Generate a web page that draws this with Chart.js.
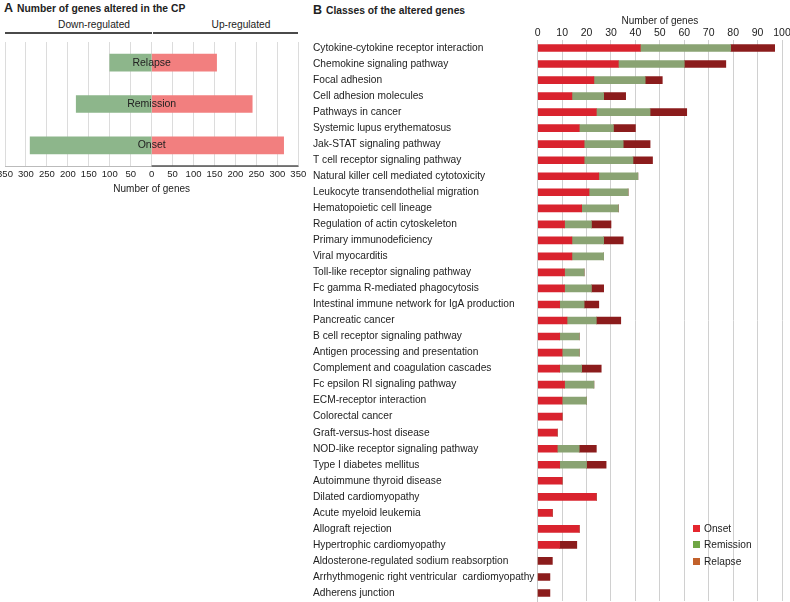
<!DOCTYPE html>
<html>
<head>
<meta charset="utf-8">
<script src="https://cdn.jsdelivr.net/npm/chart.js@4"></script>
<style>
  body { margin: 0; background: #fff; font-family: "Liberation Sans", Arial, sans-serif; color: #222; }
  #wrap { position: relative; width: 790px; height: 602px; overflow: hidden; }
  .abs { position: absolute; white-space: nowrap; }
  .ttl { font-weight: bold; font-size: 10.3px; }
  .ttl b { font-size: 12.5px; margin-right: 4px; }
  .hdr { font-size: 10.2px; transform: translateX(-50%); }
  .line { position: absolute; height: 2px; background: #4a4a4a; }
  .leg { font-size: 10.2px; }
  .leg span { display: inline-block; width: 7px; height: 7px; margin-right: 4px; vertical-align: 0px; }
</style>
</head>
<body>
<div id="wrap">
  <div class="abs ttl" style="left:4px;top:1px;"><b>A</b>Number of genes altered in the CP</div>
  <div class="abs ttl" style="left:313px;top:3px;"><b>B</b>Classes of the altered genes</div>
  <div class="abs hdr" style="left:94px;top:19px;">Down-regulated</div>
  <div class="abs hdr" style="left:241px;top:19px;">Up-regulated</div>
  <div class="line" style="left:5px;top:32px;width:147px;"></div>
  <div class="line" style="left:153px;top:32px;width:145px;"></div>

  <div class="abs" style="left:0px;top:40px;width:310px;height:160px;"><canvas id="chartA"></canvas></div>
  <div class="abs" style="left:313px;top:0px;width:477px;height:602px;"><canvas id="chartB"></canvas></div>

  <div class="abs leg" style="left:693px;top:523px;"><span style="background:#e5262e"></span>Onset</div>
  <div class="abs leg" style="left:693px;top:539px;"><span style="background:#6fa644"></span>Remission</div>
  <div class="abs leg" style="left:693px;top:556px;"><span style="background:#c2612b"></span>Relapse</div>
</div>
<script>
// Panel A: number of genes altered in the CP
var stagesA = ['Relapse', 'Remission', 'Onset'];
var downA = [100, 180, 290];
var upA = [155, 240, 315];
var ticksA = [-350, -300, -250, -200, -150, -100, -50, 0, 50, 100, 150, 200, 250, 300, 350];

// Panel B: classes of the altered genes
var classes = [
  'Cytokine-cytokine receptor interaction',
  'Chemokine signaling pathway',
  'Focal adhesion',
  'Cell adhesion molecules',
  'Pathways in cancer',
  'Systemic lupus erythematosus',
  'Jak-STAT signaling pathway',
  'T cell receptor signaling pathway',
  'Natural killer cell mediated cytotoxicity',
  'Leukocyte transendothelial migration',
  'Hematopoietic cell lineage',
  'Regulation of actin cytoskeleton',
  'Primary immunodeficiency',
  'Viral myocarditis',
  'Toll-like receptor signaling pathway',
  'Fc gamma R-mediated phagocytosis',
  'Intestinal immune network for IgA production',
  'Pancreatic cancer',
  'B cell receptor signaling pathway',
  'Antigen processing and presentation',
  'Complement and coagulation cascades',
  'Fc epsilon RI signaling pathway',
  'ECM-receptor interaction',
  'Colorectal cancer',
  'Graft-versus-host disease',
  'NOD-like receptor signaling pathway',
  'Type I diabetes mellitus',
  'Autoimmune thyroid disease',
  'Dilated cardiomyopathy',
  'Acute myeloid leukemia',
  'Allograft rejection',
  'Hypertrophic cardiomyopathy',
  'Aldosterone-regulated sodium reabsorption',
  'Arrhythmogenic right ventricular  cardiomyopathy',
  'Adherens junction'
];
var onset =     [42,33,23,14,24,17,19,19,25,21,18,11,14,14,11,11, 9,12, 9,10, 9,11,10,10, 8, 8, 9,10,24, 6,17, 9, 0, 0, 0];
var remission = [37,27,21,13,22,14,16,20,16,16,15,11,13,13, 8,11,10,12, 8, 7, 9,12,10, 0, 0, 9,11, 0, 0, 0, 0, 0, 0, 0, 0];
var relapse =   [18,17, 7, 9,15, 9,11, 8, 0, 0, 0, 8, 8, 0, 0, 5, 6,10, 0, 0, 8, 0, 0, 0, 0, 7, 8, 0, 0, 0, 0, 7, 6, 5, 5];

var fontFam = '"Liberation Sans", Arial, sans-serif';
Chart.defaults.font.family = fontFam;
Chart.defaults.color = '#222';

//drop the automatic label padding so the plot area is set by layout.padding only
function noPad(scale){
  scale.paddingLeft = 0; scale.paddingRight = 0;
  scale.paddingTop = 0; scale.paddingBottom = 0;
}

//labels written across the middle of each bar in panel A
var centerLabels = {
  id: 'centerLabels',
  afterDatasetsDraw: function(chart){
    var ctx = chart.ctx;
    var x = chart.scales.x.getPixelForValue(0);
    ctx.save();
    ctx.font = '10.5px ' + fontFam;
    ctx.fillStyle = '#222';
    ctx.textAlign = 'center';
    ctx.textBaseline = 'middle';
    stagesA.forEach(function(s, i){
      ctx.fillText(s, x, chart.scales.y.getPixelForValue(i));
    });
    // dark axis line under the up-regulated half
    var y = chart.chartArea.bottom;
    ctx.strokeStyle = '#555';
    ctx.lineWidth = 1.5;
    ctx.beginPath();
    ctx.moveTo(x, y);
    ctx.lineTo(chart.scales.x.getPixelForValue(350), y);
    ctx.stroke();
    ctx.restore();
  }
};

new Chart(document.getElementById('chartA'), {
  type: 'bar',
  data: {
    labels: stagesA,
    datasets: [
      { label: 'Down', data: downA.map(function(v){ return -v; }), backgroundColor: '#8db68b', barThickness: 17 },
      { label: 'Up', data: upA, backgroundColor: '#f27f7f', barThickness: 17 }
    ]
  },
  options: {
    indexAxis: 'y',
    responsive: true,
    maintainAspectRatio: false,
    animation: false,
    layout: { padding: { top: 2, bottom: 0, left: 5, right: 11.7 } },
    plugins: { legend: { display: false }, tooltip: { enabled: false } },
    scales: {
      x: {
        stacked: true,
        min: -350, max: 350,
        afterBuildTicks: function(scale){ scale.ticks = ticksA.map(function(v){ return { value: v }; }); },
        afterFit: function(scale){ scale.height = 34; noPad(scale); },
        grid: { color: '#dcdcdc', drawTicks: false },
        border: { color: '#bbb' },
        ticks: { padding: 3, maxRotation: 0, minRotation: 0, autoSkip: false, font: { size: 9.5 }, color: '#222',
                 callback: function(v){ return Math.abs(v); } },
        title: { display: true, text: 'Number of genes', font: { size: 10 }, padding: { top: 0, bottom: 5 } }
      },
      y: { stacked: true, display: false }
    }
  },
  plugins: [centerLabels]
});

new Chart(document.getElementById('chartB'), {
  type: 'bar',
  data: {
    labels: classes,
    datasets: [
      { label: 'Onset', data: onset, backgroundColor: '#d9232e', barThickness: 7 },
      { label: 'Remission', data: remission, backgroundColor: '#8aa373', barThickness: 7 },
      { label: 'Relapse', data: relapse, backgroundColor: '#8b1c1c', barThickness: 7 }
    ]
  },
  options: {
    indexAxis: 'y',
    responsive: true,
    maintainAspectRatio: false,
    animation: false,
    layout: { padding: { top: 15, right: 8, bottom: 1 } },
    plugins: { legend: { display: false }, tooltip: { enabled: false } },
    scales: {
      x: {
        position: 'top',
        stacked: true,
        min: 0, max: 100,
        afterFit: function(scale){ scale.height = 25; noPad(scale); },
        grid: { color: '#d0d0d0', drawTicks: false },
        border: { display: false },
        ticks: { stepSize: 10, padding: 1, maxRotation: 0, font: { size: 10.5 }, color: '#222' },
        title: { display: true, text: 'Number of genes', font: { size: 10 }, padding: { top: 0, bottom: 1 } }
      },
      y: {
        stacked: true,
        afterFit: function(scale){ scale.width = 224.7; noPad(scale); },
        grid: { display: false, drawTicks: false },
        border: { color: '#c8c8c8' },
        ticks: { crossAlign: 'far', autoSkip: false, font: { size: 10.2 }, color: '#222', padding: 0 }
      }
    }
  }
});
</script>
</body>
</html>
